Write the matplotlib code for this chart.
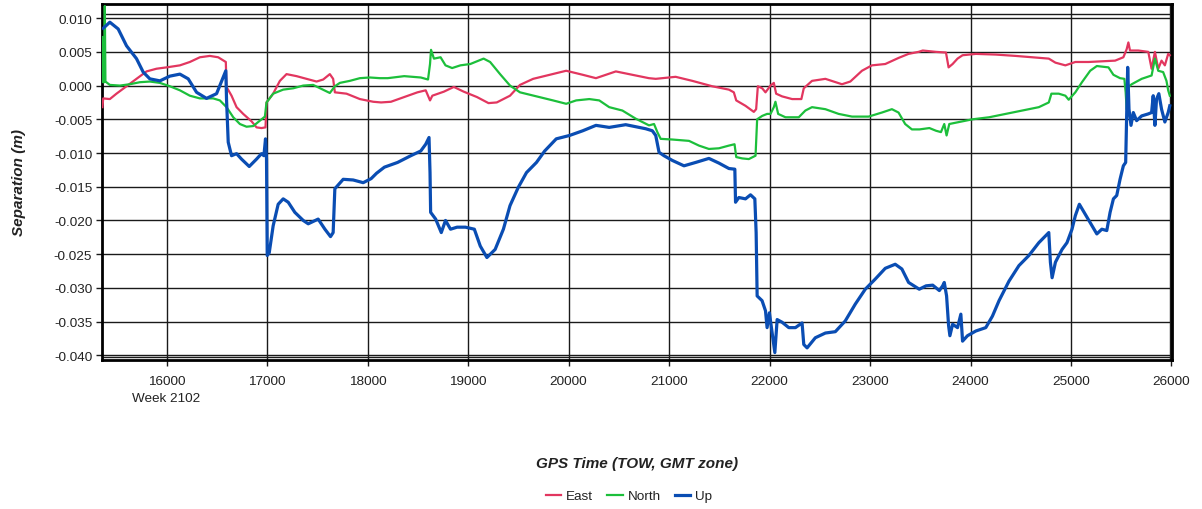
import matplotlib
matplotlib.use("Agg")
import matplotlib.pyplot as plt
from matplotlib.ticker import FuncFormatter, MultipleLocator
from matplotlib.transforms import blended_transform_factory

plt.rcParams['font.family'] = ['Liberation Sans', 'DejaVu Sans']

# ---------------- data ----------------
up_x = [15370, 15436, 15519, 15602, 15701, 15768, 15834, 15934, 16033, 16133, 16216, 16299, 16398,
        16498, 16571, 16590, 16597, 16614, 16647, 16697, 16746, 16823, 16896, 16945, 16969, 16985,
        16995, 17002, 17022, 17061, 17111, 17161, 17211, 17277, 17360, 17410, 17509, 17576, 17632,
        17658, 17675, 17758, 17857, 17957, 18036, 18090, 18168, 18299, 18431, 18530, 18579, 18612,
        18622, 18628, 18678, 18734, 18776, 18826, 18891, 18974, 19063, 19122, 19188, 19270, 19352,
        19418, 19500, 19582, 19681, 19763, 19878, 20010, 20142, 20273, 20405, 20569, 20701, 20768,
        20834, 20868, 20901, 20950, 21033, 21149, 21265, 21397, 21497, 21596, 21655, 21662, 21695,
        21761, 21811, 21854, 21867, 21877, 21926, 21960, 21976, 21999, 22026, 22053, 22076, 22125,
        22192, 22258, 22324, 22341, 22374, 22456, 22556, 22655, 22754, 22854, 22953, 23052, 23152,
        23251, 23317, 23384, 23490, 23558, 23624, 23690, 23723, 23739, 23762, 23782, 23795, 23822,
        23871, 23904, 23921, 23970, 24053, 24152, 24218, 24284, 24383, 24482, 24581, 24680, 24779,
        24795, 24812, 24845, 24911, 24960, 25010, 25043, 25083, 25142, 25208, 25257, 25307, 25356,
        25389, 25422, 25455, 25488, 25521, 25544, 25554, 25564, 25577, 25597, 25620, 25653, 25703,
        25769, 25802, 25818, 25835, 25851, 25874, 25901, 25934, 25967, 25983]
up_y = [0.0085, 0.0094, 0.0084, 0.0059, 0.0040, 0.0020, 0.0010, 0.0007, 0.0014, 0.0017, 0.0010,
        -0.0010, -0.0019, -0.0012, 0.0015, 0.0022, -0.0020, -0.0084, -0.0104, -0.0101, -0.0109,
        -0.0120, -0.0109, -0.0101, -0.0104, -0.0079, -0.0109, -0.0252, -0.0248, -0.0208, -0.0176,
        -0.0168, -0.0173, -0.0188, -0.0200, -0.0205, -0.0198, -0.0213, -0.0224, -0.0218, -0.0153,
        -0.0139, -0.0140, -0.0144, -0.0138, -0.0130, -0.0121, -0.0114, -0.0104, -0.0097, -0.0087,
        -0.0077, -0.0129, -0.0188, -0.0198, -0.0218, -0.0200, -0.0213, -0.0210, -0.0210, -0.0213,
        -0.0238, -0.0255, -0.0243, -0.0213, -0.0178, -0.0151, -0.0129, -0.0114, -0.0097, -0.0079,
        -0.0074, -0.0067, -0.0059, -0.0062, -0.0058, -0.0062, -0.0064, -0.0067, -0.0074, -0.0099,
        -0.0104, -0.0111, -0.0119, -0.0114, -0.0108, -0.0115, -0.0123, -0.0124, -0.0173, -0.0166,
        -0.0168, -0.0162, -0.0168, -0.0218, -0.0312, -0.0319, -0.0334, -0.0359, -0.0337, -0.0366,
        -0.0396, -0.0347, -0.0351, -0.0359, -0.0359, -0.0352, -0.0384, -0.0389, -0.0374, -0.0367,
        -0.0365, -0.0349, -0.0324, -0.0302, -0.0287, -0.0271, -0.0265, -0.0272, -0.0292, -0.0302,
        -0.0297, -0.0296, -0.0304, -0.0297, -0.0292, -0.0312, -0.0356, -0.0371, -0.0354, -0.0359,
        -0.0339, -0.0379, -0.0371, -0.0364, -0.0359, -0.0342, -0.0319, -0.0290, -0.0267, -0.0252,
        -0.0233, -0.0218, -0.0262, -0.0285, -0.0262, -0.0243, -0.0233, -0.0213, -0.0193, -0.0176,
        -0.0191, -0.0208, -0.0220, -0.0213, -0.0215, -0.0188, -0.0168, -0.0163, -0.0139, -0.0119,
        -0.0114, -0.0045, 0.0027, -0.0035, -0.0059, -0.0040, -0.0052, -0.0045, -0.0042, -0.0040,
        -0.0015, -0.0059, -0.0020, -0.0012, -0.0035, -0.0054, -0.0040, -0.0030]

east_x = [15362, 15370, 15436, 15502, 15602, 15701, 15801, 15900, 16000, 16133, 16232, 16332, 16431,
          16514, 16590, 16597, 16647, 16697, 16763, 16846, 16896, 16945, 16985, 16995, 17061, 17128,
          17194, 17294, 17393, 17493, 17559, 17625, 17658, 17675, 17791, 17924, 18057, 18135, 18233,
          18365, 18497, 18579, 18622, 18645, 18760, 18859, 18957, 19089, 19204, 19286, 19418, 19517,
          19648, 19813, 19977, 20142, 20273, 20471, 20635, 20800, 20868, 21066, 21232, 21430, 21596,
          21645, 21669, 21761, 21844, 21867, 21884, 21927, 21960, 22010, 22043, 22066, 22125, 22225,
          22317, 22341, 22423, 22556, 22721, 22804, 22920, 23019, 23152, 23284, 23383, 23483, 23525,
          23657, 23756, 23782, 23822, 23871, 23921, 24053, 24251, 24449, 24614, 24779, 24845, 24944,
          25043, 25175, 25307, 25439, 25521, 25554, 25571, 25587, 25670, 25769, 25802, 25835, 25868,
          25901, 25934, 25967, 25983]
east_y = [-0.0032, -0.0019, -0.0020, -0.0012, -0.0001, 0.0010, 0.0021, 0.0025, 0.0027, 0.0030,
          0.0035, 0.0042, 0.0044, 0.0042, 0.0035, -0.0002, -0.0015, -0.0032, -0.0042, -0.0053,
          -0.0062, -0.0063, -0.0062, -0.0025, -0.0012, 0.0007, 0.0017, 0.0014, 0.0010, 0.0006,
          0.0009, 0.0017, 0.0010, -0.0010, -0.0012, -0.0020, -0.0024, -0.0025, -0.0024, -0.0017,
          -0.0010, -0.0007, -0.0022, -0.0015, -0.0009, -0.0002, -0.0009, -0.0017, -0.0026, -0.0025,
          -0.0015, 0.0001, 0.0010, 0.0016, 0.0022, 0.0016, 0.0011, 0.0021, 0.0016, 0.0011, 0.0010,
          0.0013, 0.0007, -0.0001, -0.0006, -0.0010, -0.0022, -0.0030, -0.0039, -0.0035, -0.0001,
          -0.0004, -0.0010, 0.0000, 0.0004, -0.0012, -0.0016, -0.0020, -0.0020, -0.0004, 0.0007,
          0.0010, 0.0002, 0.0006, 0.0022, 0.0030, 0.0032, 0.0041, 0.0047, 0.0050, 0.0052, 0.0050,
          0.0049, 0.0027, 0.0032, 0.0040, 0.0045, 0.0047, 0.0046, 0.0044, 0.0042, 0.0040, 0.0034,
          0.0030, 0.0035, 0.0035, 0.0036, 0.0037, 0.0042, 0.0054, 0.0064, 0.0052, 0.0052, 0.0050,
          0.0025, 0.0050, 0.0025, 0.0037, 0.0030, 0.0047, 0.0045]

north_x = [15360, 15368, 15380, 15386, 15392, 15436, 15536, 15635, 15735, 15834, 15934, 16033, 16133,
           16232, 16332, 16464, 16531, 16597, 16664, 16730, 16796, 16863, 16929, 16979, 16995, 17061,
           17161, 17261, 17360, 17459, 17542, 17625, 17675, 17725, 17824, 17924, 18023, 18123, 18201,
           18365, 18530, 18602, 18622, 18632, 18661, 18727, 18776, 18842, 18924, 19023, 19155, 19220,
           19319, 19418, 19517, 19681, 19846, 19977, 20076, 20207, 20306, 20405, 20536, 20668, 20801,
           20851, 20884, 20917, 21033, 21199, 21298, 21397, 21497, 21596, 21652, 21669, 21728, 21794,
           21861, 21877, 21927, 21976, 22010, 22043, 22059, 22086, 22159, 22291, 22357, 22423, 22556,
           22688, 22821, 22986, 23118, 23218, 23284, 23350, 23417, 23492, 23591, 23657, 23706, 23739,
           23762, 23789, 23888, 24020, 24185, 24350, 24515, 24680, 24779, 24805, 24878, 24944, 24977,
           25043, 25109, 25191, 25257, 25373, 25422, 25488, 25531, 25544, 25554, 25571, 25604, 25703,
           25802, 25835, 25868, 25917, 25950, 25967, 25983]
north_y = [0.0072, 0.0005, 0.0005, 0.0118, 0.0006, 0.0001, 0.0000, 0.0002, 0.0005, 0.0006, 0.0004,
           -0.0001, -0.0007, -0.0015, -0.0019, -0.0019, -0.0022, -0.0032, -0.0047, -0.0057, -0.0061,
           -0.0060, -0.0052, -0.0046, -0.0025, -0.0012, -0.0006, -0.0004, 0.0000, 0.0001, -0.0005,
           -0.0011, -0.0001, 0.0004, 0.0007, 0.0011, 0.0012, 0.0011, 0.0011, 0.0014, 0.0012, 0.0009,
           0.0032, 0.0053, 0.0040, 0.0042, 0.0030, 0.0026, 0.0030, 0.0032, 0.0040, 0.0035, 0.0017,
           0.0000, -0.0010, -0.0016, -0.0022, -0.0027, -0.0022, -0.0020, -0.0022, -0.0032, -0.0037,
           -0.0049, -0.0059, -0.0057, -0.0069, -0.0079, -0.0080, -0.0082, -0.0089, -0.0094, -0.0093,
           -0.0089, -0.0087, -0.0106, -0.0108, -0.0109, -0.0104, -0.0050, -0.0045, -0.0042, -0.0042,
           -0.0032, -0.0024, -0.0042, -0.0047, -0.0047, -0.0037, -0.0032, -0.0035, -0.0042, -0.0046,
           -0.0046, -0.0040, -0.0035, -0.0040, -0.0057, -0.0065, -0.0065, -0.0063, -0.0067, -0.0069,
           -0.0057, -0.0074, -0.0057, -0.0054, -0.0050, -0.0047, -0.0042, -0.0037, -0.0032, -0.0025,
           -0.0012, -0.0012, -0.0015, -0.0021, -0.0010, 0.0005, 0.0022, 0.0029, 0.0027, 0.0016,
           0.0011, 0.0010, -0.0010, -0.0035, -0.0002, 0.0002, 0.0010, 0.0015, 0.0040, 0.0022, 0.0020,
           0.0007, -0.0007, -0.0015]

series_names = ["East", "North", "Up"]
series_colors = ["#E2365F", "#1CBF3B", "#0A4DB3"]

x_ticks = [16000, 17000, 18000, 19000, 20000, 21000, 22000, 23000, 24000, 25000, 26000]
week_label = "Week 2102"
x_title = "GPS Time (TOW, GMT zone)"
y_title = "Separation (m)"

# ---------------- figure ----------------
W, H = 1202, 510
fig = plt.figure(figsize=(W / 100, H / 100), dpi=100)
ax = fig.add_axes([102 / W, 1 - 361 / H, 1070 / W, 356 / H])

ax.plot(east_x, east_y, color=series_colors[0], lw=1.6, label=series_names[0], zorder=3)
ax.plot(north_x, north_y, color=series_colors[1], lw=1.6, label=series_names[1], zorder=3)
ax.plot(up_x, up_y, color=series_colors[2], lw=2.3, label=series_names[2], zorder=4)

ax.set_xlim(15358, 26005)
ax.set_ylim(-0.0407, 0.0121)
ax.set_xticks(x_ticks)
ax.yaxis.set_major_locator(MultipleLocator(0.005))
ax.yaxis.set_major_formatter(FuncFormatter(lambda v, p: f"{v:.3f}"))
ax.grid(True, color="#1a1a1a", lw=1.0, zorder=1)
ax.set_axisbelow(True)
# inner frame lines
ax.axhline(0.0106, color="#1a1a1a", lw=1.0, zorder=1)
ax.axhline(-0.0403, color="#1a1a1a", lw=1.0, zorder=1)
ax.axvline(25985, color="#1a1a1a", lw=1.0, zorder=1)

for s in ax.spines.values():
    s.set_color("black")
    s.set_linewidth(2.0)

ax.tick_params(axis="both", length=4, width=1, color="#1a1a1a", labelsize=9.7,
               labelcolor="#222222")
ax.tick_params(axis="x", pad=7)
ax.tick_params(axis="y", pad=3)

tr = blended_transform_factory(ax.transData, ax.transAxes)
ax.text(16000, -0.090, week_label, transform=tr, ha="center", va="top", fontsize=9.7, color="#222222")

fig.text(637 / W, 1 - 464 / H, x_title, ha="center", va="center", fontsize=11,
         fontweight="bold", fontstyle="italic", color="#222222")
fig.text(19 / W, 1 - 183 / H, y_title, ha="center", va="center", rotation=90, fontsize=11,
         fontweight="bold", fontstyle="italic", color="#222222")

fig.legend(loc="center", bbox_to_anchor=(629 / W, 1 - 497 / H), ncol=3, frameon=False,
           fontsize=9.7, handlelength=1.16, handletextpad=0.35, columnspacing=1.05)
for t in fig.legends[0].get_texts():
    t.set_color("#222222")

fig.savefig("out.png", dpi=100)
